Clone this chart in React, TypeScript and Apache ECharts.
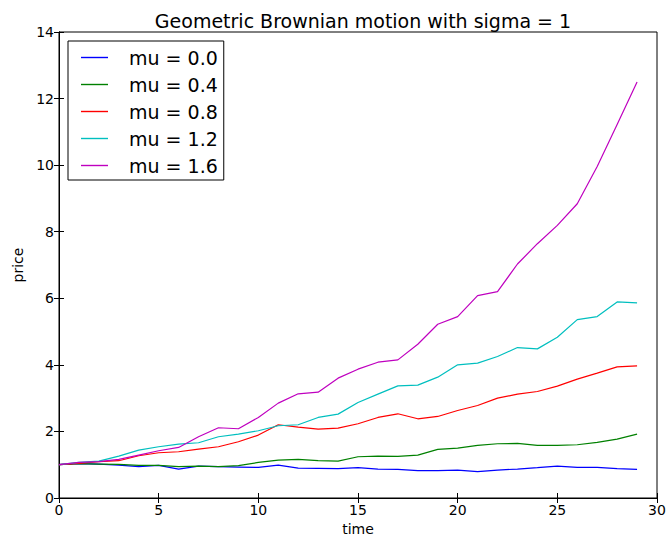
import React, { useEffect, useRef } from "react";
import * as echarts from "echarts";

// time steps 0..29
const steps: number[] = Array.from({ length: 30 }, (_, i) => i);

const mu00: number[] = [1.0, 1.03, 1.02, 0.99, 0.94, 0.98, 0.87, 0.96, 0.94, 0.93, 0.92, 0.99, 0.9, 0.89, 0.88, 0.91, 0.87, 0.86, 0.82, 0.82, 0.84, 0.79, 0.84, 0.87, 0.91, 0.96, 0.92, 0.92, 0.88, 0.86];
const mu04: number[] = [1.0, 1.03, 1.02, 1.01, 0.98, 0.98, 0.94, 0.96, 0.94, 0.97, 1.07, 1.14, 1.16, 1.12, 1.11, 1.24, 1.26, 1.25, 1.29, 1.46, 1.5, 1.58, 1.63, 1.64, 1.58, 1.58, 1.6, 1.67, 1.77, 1.92];
const mu08: number[] = [1.0, 1.04, 1.09, 1.12, 1.27, 1.36, 1.39, 1.47, 1.54, 1.69, 1.89, 2.2, 2.13, 2.07, 2.1, 2.23, 2.42, 2.53, 2.38, 2.45, 2.63, 2.78, 3.0, 3.12, 3.2, 3.36, 3.57, 3.75, 3.94, 3.97];
const mu12: number[] = [1.0, 1.07, 1.11, 1.26, 1.44, 1.54, 1.62, 1.66, 1.84, 1.92, 2.02, 2.17, 2.2, 2.42, 2.52, 2.87, 3.12, 3.37, 3.39, 3.63, 4.0, 4.05, 4.25, 4.52, 4.48, 4.83, 5.36, 5.45, 5.89, 5.86];
const mu16: number[] = [1.0, 1.07, 1.09, 1.16, 1.29, 1.42, 1.52, 1.84, 2.11, 2.08, 2.42, 2.85, 3.13, 3.18, 3.6, 3.87, 4.08, 4.15, 4.62, 5.22, 5.45, 6.08, 6.2, 7.03, 7.64, 8.19, 8.84, 9.96, 11.22, 12.5];

const seriesNames: string[] = ["mu = 0.0", "mu = 0.4", "mu = 0.8", "mu = 1.2", "mu = 1.6"];
const seriesValues: number[][] = [mu00, mu04, mu08, mu12, mu16];
const seriesColors: string[] = ["#0000ff", "#008000", "#ff0000", "#00bfbf", "#bf00bf"];

const FONT = "DejaVu Sans";

export default function App() {
  const ref = useRef<HTMLDivElement>(null);

  useEffect(() => {
    if (!ref.current) return;
    const chart = echarts.init(ref.current, undefined, { renderer: "svg" });

    const tickStyle = { show: true, inside: true, length: 5, lineStyle: { color: "#000", width: 1 } };
    const labelStyle = { fontFamily: FONT, fontSize: 14, color: "#000" };

    chart.setOption({
      animation: false,
      backgroundColor: "#fff",
      title: {
        text: "Geometric Brownian motion with sigma = 1",
        left: 358,
        textAlign: "center",
        top: 6,
        textStyle: { fontFamily: FONT, fontSize: 19, fontWeight: "normal", color: "#000" },
      },
      grid: {
        left: 59,
        right: 13,
        top: 32,
        bottom: 44,
        show: true,
        borderColor: "#000",
        borderWidth: 1,
        backgroundColor: "transparent",
      },
      legend: {
        orient: "vertical",
        left: 68,
        top: 41,
        padding: [7, 6, 5, 13],
        itemWidth: 27,
        itemHeight: 1.4,
        itemGap: 8,
        borderColor: "#000",
        borderWidth: 1,
        backgroundColor: "#fff",
        textStyle: { fontFamily: FONT, fontSize: 19, lineHeight: 19, color: "#000", padding: [0, 0, 0, 16] },
        data: seriesNames.map((n, k) => ({
          name: n,
          icon: "rect",
          itemStyle: { color: seriesColors[k] },
        })),
        itemStyle: { borderWidth: 0 },
      },
      xAxis: [
        {
          type: "value",
          min: 0,
          max: 30,
          interval: 5,
          position: "bottom",
          name: "time",
          nameLocation: "middle",
          nameGap: 22,
          nameTextStyle: { fontFamily: FONT, fontSize: 14, color: "#000" },
          axisLine: { show: true, lineStyle: { color: "#000", width: 1 } },
          axisTick: tickStyle,
          axisLabel: { ...labelStyle, margin: 5 },
          splitLine: { show: false },
        },
        {
          type: "value",
          min: 0,
          max: 30,
          interval: 5,
          position: "top",
          axisLine: { show: true, lineStyle: { color: "#000", width: 1 } },
          axisTick: tickStyle,
          axisLabel: { show: false },
          splitLine: { show: false },
        },
      ],
      yAxis: [
        {
          type: "value",
          min: 0,
          max: 14,
          interval: 2,
          position: "left",
          name: "price",
          nameLocation: "middle",
          nameGap: 33,
          nameTextStyle: { fontFamily: FONT, fontSize: 14, color: "#000" },
          axisLine: { show: true, lineStyle: { color: "#000", width: 1 } },
          axisTick: tickStyle,
          axisLabel: { ...labelStyle, margin: 5 },
          splitLine: { show: false },
        },
        {
          type: "value",
          min: 0,
          max: 14,
          interval: 2,
          position: "right",
          axisLine: { show: true, lineStyle: { color: "#000", width: 1 } },
          axisTick: tickStyle,
          axisLabel: { show: false },
          splitLine: { show: false },
        },
      ],
      series: seriesValues.map((vals, k) => ({
        name: seriesNames[k],
        type: "line",
        xAxisIndex: 0,
        yAxisIndex: 0,
        data: vals.map((v, i) => [steps[i], v]),
        showSymbol: false,
        symbol: "none",
        color: seriesColors[k],
        lineStyle: { color: seriesColors[k], width: 1.2 },
      })),
    });

    return () => chart.dispose();
  }, []);

  return <div ref={ref} style={{ width: 670, height: 542, position: "absolute", left: 0, top: 0 }} />;
}
